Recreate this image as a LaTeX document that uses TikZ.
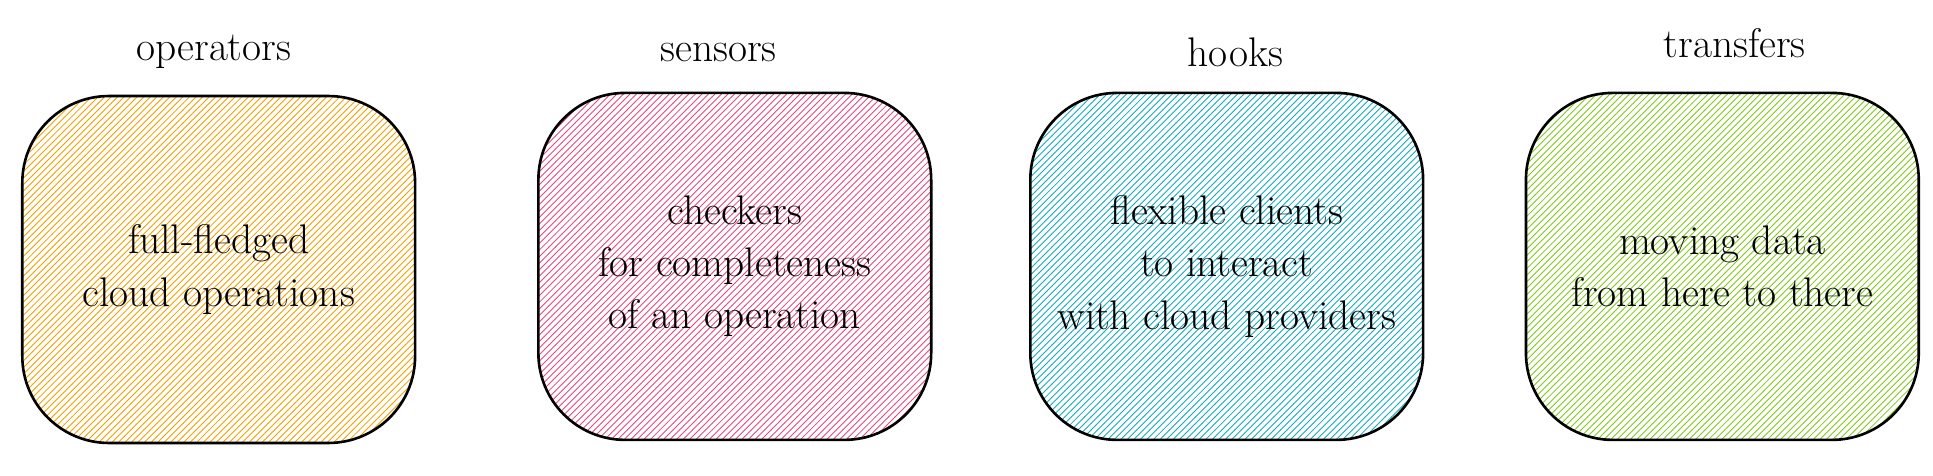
\documentclass[tikz,border=0pt]{standalone}
\usepackage{tikz}
\usetikzlibrary{patterns}
\usetikzlibrary{positioning}
\definecolor{opcol}{HTML}{F59F00}
\definecolor{sencol}{HTML}{E64980}
\definecolor{hookcol}{HTML}{15AABF}
\definecolor{trcol}{HTML}{82C91E}
\tikzset{card/.style={draw, very thick, rounded corners=1.4cm, minimum width=6.34cm, minimum height=5.6cm, align=center, pattern=north east lines},
  cardtext/.style={align=center, font=\fontsize{19}{24}\selectfont},
  cardtitle/.style={font=\fontsize{19}{24}\selectfont}}

\begin{document}
\begin{tikzpicture}
\useasboundingbox (0,0) rectangle (31.2,7.68);

\node[card, pattern color=opcol] (ops) at (3.53,3.33) {};
\node[cardtext] (opstxt) at (ops) {full-fledged\\cloud operations};
\node[card, pattern color=sencol] (sen) at (11.86,3.38) {};
\node[cardtext] (sentxt) at (sen) {checkers\\for completeness\\of an operation};
\node[card, pattern color=hookcol] (hook) at (19.8,3.38) {};
\node[cardtext] (hooktxt) at (hook) {flexible clients\\to interact\\with cloud providers};
\node[card, pattern color=trcol] (tr) at (27.8,3.38) {};
\node[cardtext] (trtxt) at (tr) {moving data\\from here to there};

% titles
\node[cardtitle] (opstitle) at (3.45,6.84) {operators};
\node[cardtitle] (sentitle) at (11.6,6.84) {sensors};
\node[cardtitle] (hooktitle) at (19.94,6.84) {hooks};
\node[cardtitle] (trtitle) at (28,6.98) {transfers};
\end{tikzpicture}
\end{document}
